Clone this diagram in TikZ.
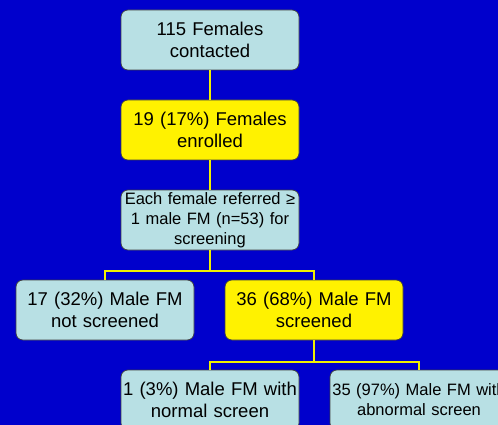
\documentclass[tikz,border=0pt]{standalone}
\usepackage{fontspec}
\setmainfont{Liberation Sans}
\usepackage{tikz}
\usetikzlibrary{positioning}

\definecolor{slideblue}{RGB}{0,0,204}
\definecolor{paleblue}{RGB}{184,224,228}
\definecolor{lineyellow}{RGB}{240,240,0}

\begin{document}
\begin{tikzpicture}[x=1pt, y=-1pt,
    box/.style={draw=black!75, line width=0.7pt, rounded corners=7pt, fill=paleblue,
      text width=176pt, inner sep=1pt, minimum height=60pt, align=center,
      font=\fontsize{18.5}{21.5}\selectfont},
    hit/.style={box, fill=yellow},
    small/.style={font=\fontsize{16.5}{20}\selectfont},
    link/.style={draw=lineyellow, line width=1.4pt}]
              % Fondo
              \fill[slideblue] (0,0) rectangle (498,425);
              \clip (0,0) rectangle (498,425);

              % Nodos
              \node[box] (contacted) at (210,40) {115 Females\\contacted};
              \node[hit] (enrolled) at (210,130) {19 (17\%) Females\\enrolled};
              \node[box, small] (referred) at (210,220) {Each female referred ≥\\1 male FM (n=53) for\\screening};
              \node[box] (notscreened) at (105,310) {17 (32\%) Male FM\\not screened};
              \node[hit] (screened) at (314,310) {36 (68\%) Male FM\\screened};
              \node[box] (normal) at (210,400) {\mbox{1 (3\%) Male FM with}\\normal screen};
              \node[box, small] (abnormal) at (419,400) {35 (97\%) Male FM with\\abnormal screen};
              \coordinate (split1) at (210,271);
              \coordinate (split2) at (314,362);

              % Aristas
              \draw[link] (contacted) -- (enrolled);
              \draw[link] (enrolled) -- (referred);
              \draw[link] (referred) -- (split1);
              \draw[link] (split1) -| (notscreened);
              \draw[link] (split1) -| (screened);
              \draw[link] (screened) -- (split2);
              \draw[link] (split2) -| (normal);
              \draw[link] (split2) -| (abnormal);
            \end{tikzpicture}
\end{document}
